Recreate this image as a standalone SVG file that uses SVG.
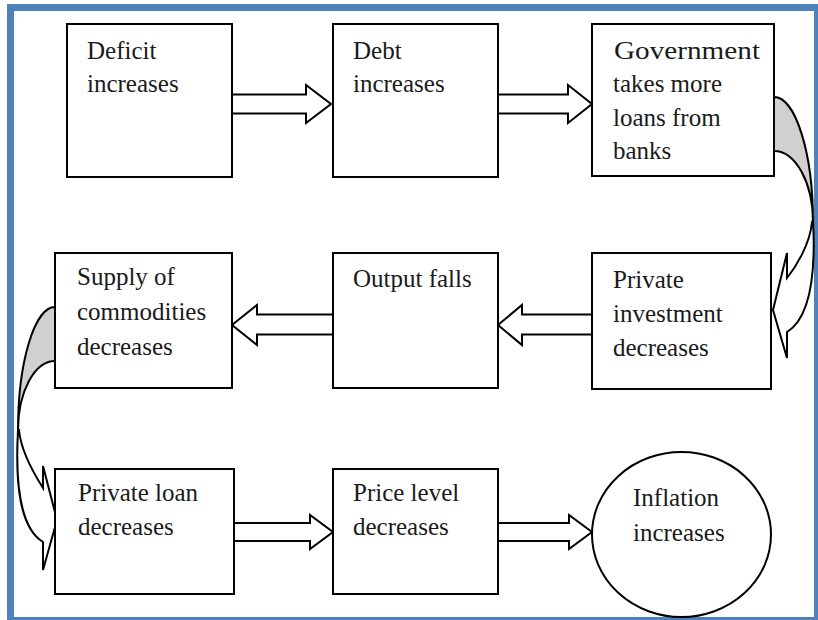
<svg xmlns="http://www.w3.org/2000/svg" width="818" height="620" viewBox="0 0 818 620">
<style>
.box{fill:#fff;stroke:#000;stroke-width:2}
.t{font-family:"Liberation Serif","Times New Roman",serif;font-size:25px;fill:#1a1a1a}
.ar{fill:#fff;stroke:#000;stroke-width:2;stroke-linejoin:miter}
.back{fill:#d0d0d0;stroke:#000;stroke-width:2}
</style>
<rect x="0" y="0" width="818" height="620" fill="#fff"/>
<rect x="10.5" y="7.5" width="807" height="613" fill="none" stroke="#4f81bd" stroke-width="7"/>
<g id="connectors">
<path class="ar" d="M232,94.5 H306 V85 L331,104 L306,123 V113.5 H232 Z"/>
<path class="ar" d="M498,94.5 H568 V85 L592,104 L568,123 V113.5 H498 Z"/>
<path class="ar" d="M333,314.5 H257 V305 L232,325 L257,345 V334.5 H333 Z"/>
<path class="ar" d="M592,314.5 H522 V305 L498,325 L522,345 V334.5 H592 Z"/>
<path class="ar" d="M234,523 H310 V515 L333,532 L310,549 V541 H234 Z"/>
<path class="ar" d="M498,523 H569 V515 L592,532 L569,549 V541 H498 Z"/>
<path class="back" d="M774,97 A39 125 0 0 1 813,222 A39 71 0 0 0 774,151 Z"/>
<path class="ar" d="M812,222 C810,245 795,268 787,278 L787,253 L773,310 L787,358 L787,332 C810,318 816,275 813,220 Z"/>
<path class="back" d="M55,307 A37 123 0 0 0 18,430 A37 69 0 0 1 55,361 Z"/>
<path class="ar" d="M19,430 C21,453 36,477 43,488 L43,466 L57,520 L43,570 L43,542 C20,528 15,485 18,430 Z"/>
</g>
<g id="n1"><rect class="box" x="67" y="24" width="165" height="153"/><text class="t" x="87" y="59">Deficit</text><text class="t" x="87" y="92">increases</text></g>
<g id="n2"><rect class="box" x="333" y="24" width="165" height="153"/><text class="t" x="353" y="59">Debt</text><text class="t" x="353" y="92">increases</text></g>
<g id="n3"><rect class="box" x="592" y="24" width="182" height="152"/><text class="t" x="614" y="59" textLength="146" lengthAdjust="spacingAndGlyphs">Government</text><text class="t" x="613" y="92">takes more</text><text class="t" x="613" y="126">loans from</text><text class="t" x="613" y="159">banks</text></g>
<g id="n4"><rect class="box" x="592" y="253" width="179" height="136"/><text class="t" x="613" y="288">Private</text><text class="t" x="613" y="322">investment</text><text class="t" x="613" y="356">decreases</text></g>
<g id="n5"><rect class="box" x="333" y="253" width="165" height="135"/><text class="t" x="353" y="287">Output falls</text></g>
<g id="n6"><rect class="box" x="55" y="253" width="177" height="135"/><text class="t" x="77" y="285">Supply of</text><text class="t" x="77" y="320">commodities</text><text class="t" x="77" y="355">decreases</text></g>
<g id="n7"><rect class="box" x="55" y="469" width="179" height="125"/><text class="t" x="78" y="501">Private loan</text><text class="t" x="78" y="535">decreases</text></g>
<g id="n8"><rect class="box" x="333" y="469" width="165" height="125"/><text class="t" x="353" y="501">Price level</text><text class="t" x="353" y="535">decreases</text></g>
<g id="n9"><ellipse class="box" cx="681.5" cy="534.5" rx="89.5" ry="82.5"/><text class="t" x="633" y="506">Inflation</text><text class="t" x="633" y="541">increases</text></g>
</svg>
